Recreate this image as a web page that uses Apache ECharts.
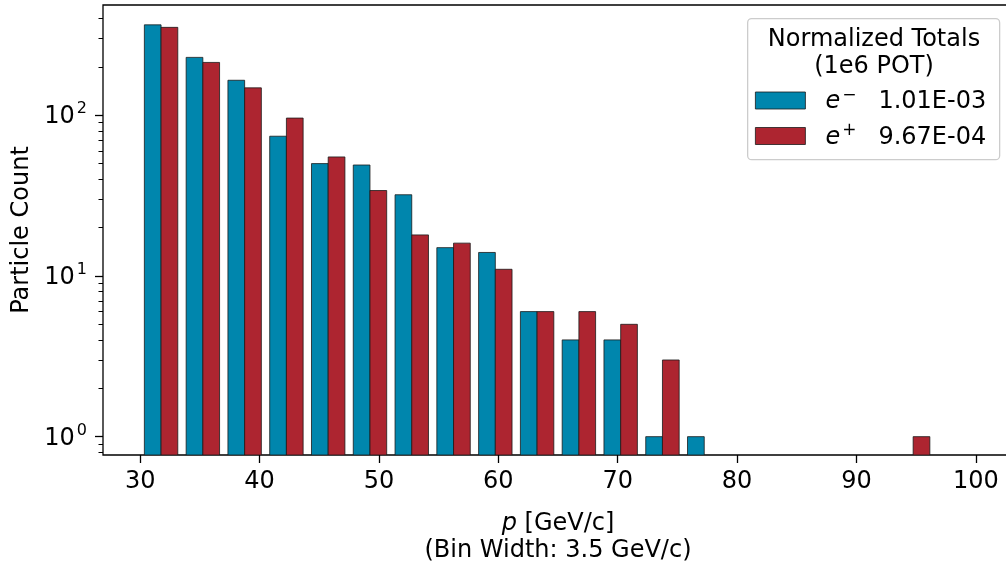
<!DOCTYPE html>
<html>
<head>
<meta charset="utf-8">
<script src="https://cdn.jsdelivr.net/npm/echarts@6/dist/echarts.min.js"></script>
<style>
	html, body { margin: 0; padding: 0; background: #fff; }
	#chart { width: 1006px; height: 563px; }
</style>
</head>
<body>
<div id="chart"></div>
<script>
	// histogram bins (GeV/c), width 3.5
	const binStarts = [30, 33.5, 37, 40.5, 44, 47.5, 51, 54.5, 58, 61.5, 65, 68.5, 72, 75.5, 79, 82.5, 86, 89.5, 93, 96.5];
	const binWidth = 3.5;

	const electronCounts = [365, 229, 165, 74, 50, 49, 32, 15, 14, 6, 4, 4, 1, 1, 0, 0, 0, 0, 0, 0];
	const positronCounts = [352, 213, 148, 96, 55, 34, 18, 16, 11, 6, 6, 5, 3, 0, 0, 0, 0, 0, 1, 0];

	const seriesNames = ['e-', 'e+'];
	const seriesSup = ['−', '+'];
	const seriesTotals = ['1.01E-03', '9.67E-04'];
	const seriesColors = ['#0086ad', '#ad2530'];

	const xTicks = [30, 40, 50, 60, 70, 80, 90, 100];
	const yMajor = [1, 10, 100];
	const yMajorExp = ['0', '1', '2'];
	const yMinor = [0.8, 0.9, 2, 3, 4, 5, 6, 7, 8, 9, 20, 30, 40, 50, 60, 70, 80, 90, 200, 300, 400];

	const xMin = 26.885, xMax = 103.115;
	const yMin = 0.769, yMax = 485;

	const FONT = 'DejaVu Sans';

	function histData(counts) {
		return binStarts
			.map((b, i) => [b, b + binWidth, counts[i]])
			.filter(d => d[2] > 0);
	}

	function barRenderer(k) {
		return function (params, api) {
			let lo = api.value(0), hi = api.value(1), n = api.value(2);
			let mid = (lo + hi) / 2;
			let w = 0.8 * (hi - lo) / 2;
			let x0 = mid + (k - 1) * w;
			let p0 = api.coord([x0, n]);
			let p1 = api.coord([x0 + w, yMin]);
			return {
				type: 'rect',
				shape: { x: p0[0], y: p0[1], width: p1[0] - p0[0], height: p1[1] - p0[1] },
				style: { fill: seriesColors[k], stroke: '#1a1a1a', lineWidth: 0.8 }
			};
		};
	}

	let series = [electronCounts, positronCounts].map((counts, k) => ({
		type: 'custom',
		name: seriesNames[k],
		xAxisIndex: 0,
		yAxisIndex: 0,
		renderItem: barRenderer(k),
		itemStyle: { color: seriesColors[k] },
		encode: { x: [0, 1], y: 2 },
		data: histData(counts),
		clip: true
	}));

	let lg = v => Math.log10(v);

	let option = {
		animation: false,
		backgroundColor: '#fff',
		textStyle: { fontFamily: FONT },
		grid: {
			left: 103,
			top: 5,
			right: -7,
			bottom: 108,
			show: true,
			borderColor: '#000',
			borderWidth: 1.3,
			backgroundColor: 'transparent',
			containLabel: false,
			outerBoundsMode: 'none'
		},
		xAxis: [{
			type: 'value',
			min: xMin,
			max: xMax,
			name: '{i|p} [GeV/c]\n(Bin Width: 3.5 GeV/c)',
			nameLocation: 'middle',
			nameGap: 55,
			nameTextStyle: {
				fontFamily: FONT,
				fontSize: 24,
				color: '#000',
				lineHeight: 27,
				rich: {
					i: { fontFamily: FONT, fontSize: 24, fontStyle: 'italic', color: '#000', lineHeight: 27 }
				}
			},
			axisLine: { show: false, onZero: false },
			splitLine: { show: false },
			axisTick: {
				show: true,
				length: 8,
				customValues: xTicks,
				lineStyle: { color: '#000', width: 1.3 }
			},
			axisLabel: {
				customValues: xTicks,
				margin: 15,
				fontFamily: FONT,
				fontSize: 24,
				color: '#000'
			}
		}],
		yAxis: [{
			// data axis (log scale)
			type: 'log',
			logBase: 10,
			min: yMin,
			max: yMax,
			axisLine: { show: false },
			axisTick: { show: false },
			axisLabel: { show: false },
			splitLine: { show: false },
			minorTick: { show: false }
		}, {
			// major ticks + labels, in log10 space
			type: 'value',
			min: lg(yMin),
			max: lg(yMax),
			position: 'left',
			name: 'Particle Count',
			nameLocation: 'middle',
			nameGap: 68,
			nameTextStyle: { fontFamily: FONT, fontSize: 24, color: '#000' },
			axisLine: { show: false, onZero: false },
			splitLine: { show: false },
			axisTick: {
				show: true,
				length: 8,
				customValues: yMajor.map(lg),
				lineStyle: { color: '#000', width: 1.3 }
			},
			axisLabel: {
				customValues: yMajor.map(lg),
				formatter: v => {
					let k = yMajor.findIndex(m => Math.abs(lg(m) - v) < 1e-6);
					return '{b|10}{s|' + yMajorExp[k] + '}';
				},
				margin: 16,
				fontFamily: FONT,
				fontSize: 24,
				color: '#000',
				rich: {
					b: { fontFamily: FONT, fontSize: 24, color: '#000', lineHeight: 28, verticalAlign: 'bottom' },
					s: { fontFamily: FONT, fontSize: 16, color: '#000', lineHeight: 16, verticalAlign: 'top', padding: [0, 0, 0, 2] }
				}
			}
		}, {
			// minor ticks
			type: 'value',
			min: lg(yMin),
			max: lg(yMax),
			position: 'left',
			axisLine: { show: false, onZero: false },
			splitLine: { show: false },
			axisLabel: { show: false },
			axisTick: {
				show: true,
				length: 4.5,
				customValues: yMinor.map(lg),
				lineStyle: { color: '#000', width: 1 }
			}
		}],
		legend: {
			orient: 'vertical',
			left: 755,
			top: 87,
			padding: 0,
			itemWidth: 50,
			itemHeight: 17,
			itemGap: 8.5,
			icon: 'rect',
			itemStyle: { borderColor: '#1a1a1a', borderWidth: 0.8 },
			data: seriesNames,
			formatter: name => {
				let k = seriesNames.indexOf(name);
				return '{i|e}{s|' + seriesSup[k] + '}{v|' + seriesTotals[k] + '}';
			},
			textStyle: {
				fontFamily: FONT,
				fontSize: 24,
				color: '#000',
				lineHeight: 27,
				rich: {
					i: { fontFamily: FONT, fontSize: 24, fontStyle: 'italic', color: '#000', lineHeight: 27, verticalAlign: 'bottom', padding: [0, 2, 0, 15] },
					s: { fontFamily: FONT, fontSize: 17, color: '#000', lineHeight: 17, verticalAlign: 'top' },
					v: { fontFamily: FONT, fontSize: 24, color: '#000', lineHeight: 27, verticalAlign: 'bottom', padding: [0, 0, 0, 22] }
				}
			}
		},
		graphic: [{
			type: 'rect',
			left: 747,
			top: 18,
			z: 0,
			shape: { width: 252, height: 141, r: 4 },
			style: { fill: 'rgba(255,255,255,0.8)', stroke: '#cccccc', lineWidth: 1.3 }
		}, {
			type: 'text',
			x: 874,
			y: 40,
			z: 1,
			style: {
				text: 'Normalized Totals',
				font: '24px "DejaVu Sans"',
				fill: '#000',
				textAlign: 'center',
				textVerticalAlign: 'middle'
			}
		}, {
			type: 'text',
			x: 874,
			y: 67,
			z: 1,
			style: {
				text: '(1e6 POT)',
				font: '24px "DejaVu Sans"',
				fill: '#000',
				textAlign: 'center',
				textVerticalAlign: 'middle'
			}
		}],
		series: series
	};

	let chart = echarts.init(document.getElementById('chart'));
	chart.setOption(option);
	window.addEventListener('resize', function () {
		chart.resize();
	});
</script>
</body>
</html>
